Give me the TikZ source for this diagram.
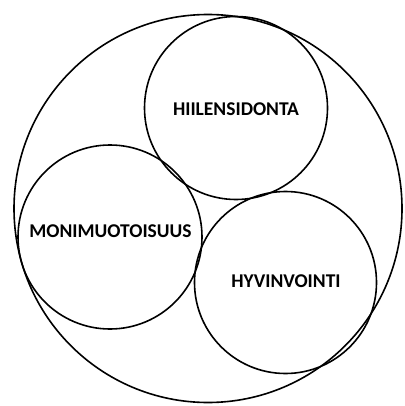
\documentclass[tikz,border=0pt]{standalone}
\usepackage{fontspec}
\setmainfont{Carlito}
\begin{document}
\begin{tikzpicture}[x=1pt,y=-1pt,
  ring/.style={draw=black,line width=1.6pt,circle,inner sep=0pt},
  lbl/.style={font=\bfseries\fontsize{19.5}{22}\selectfont,text=black}]
\useasboundingbox (0,0) rectangle (404,406);
\node[ring,minimum size=388pt] (outer) at (208,208.5) {};
\node[ring,minimum size=183pt] (top) at (236,108) {};
\node[ring,minimum size=184pt] (left) at (110,237) {};
\node[ring,minimum size=182pt] (right) at (285.5,282.5) {};
\node[lbl] (tt) at (236,109) {HIILENSIDONTA};
\node[lbl] (lt) at (110.5,231.5) {MONIMUOTOISUUS};
\node[lbl] (rt) at (286,281) {HYVINVOINTI};
\end{tikzpicture}
\end{document}
